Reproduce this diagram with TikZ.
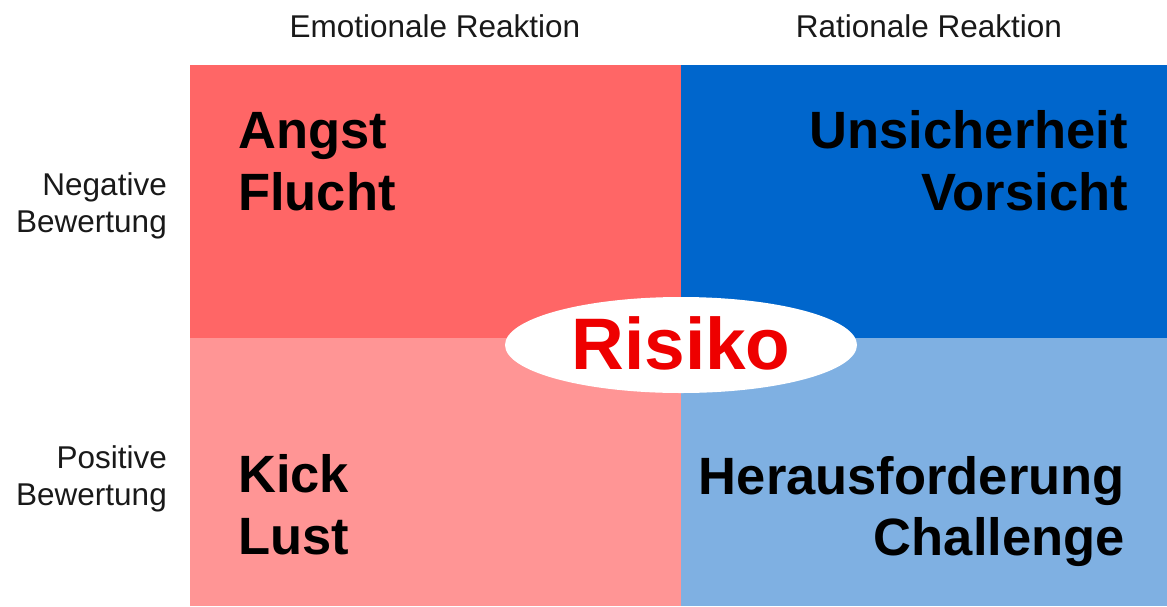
\documentclass[tikz,border=0pt]{standalone}
\usepackage{fontspec}
\setmainfont{Liberation Sans}
\usetikzlibrary{shapes.geometric}
\definecolor{tl}{HTML}{FF6666}
\definecolor{tr}{HTML}{0066CC}
\definecolor{bl}{HTML}{FF9595}
\definecolor{br}{HTML}{7FB0E2}
\definecolor{rred}{HTML}{EE0000}
\begin{document}
\begin{tikzpicture}[x=1pt,y=-1pt,
  big/.style={font=\fontsize{52.5}{62}\selectfont\bfseries, inner sep=0pt, text=black},
  head/.style={font=\fontsize{31.5}{36}\selectfont, inner sep=0pt, text=black!90},
  side/.style={font=\fontsize{31.5}{37}\selectfont, inner sep=0pt, text=black!90, align=right}]
\useasboundingbox (0,0) rectangle (1167,606);
\fill[tl] (190,65) rectangle (681,338);
\fill[tr] (681,65) rectangle (1167,338);
\fill[bl] (190,338) rectangle (681,606);
\fill[br] (681,338) rectangle (1167,606);
\node[draw=none, fill=white, ellipse, minimum width=352pt, minimum height=96pt, inner sep=0pt] (ell) at (681,345) {};
\node[font=\fontsize{73}{75}\selectfont\bfseries, text=rred, inner sep=0pt, anchor=base] (risiko) at (681,369) {Risiko};
\node[big, anchor=base west] (angst) at (238,148) {Angst};
\node[big, anchor=base west] (flucht) at (238,210) {Flucht};
\node[big, anchor=base east] (unsich) at (1128,148) {Unsicherheit};
\node[big, anchor=base east] (vors) at (1128,210) {Vorsicht};
\node[big, anchor=base west] (kick) at (238,492) {Kick};
\node[big, anchor=base west] (lust) at (238,554) {Lust};
\node[big, anchor=base east] (herau) at (1125,494) {Herausforderung};
\node[big, anchor=base east] (chall) at (1125,555) {Challenge};
\node[head, anchor=base] (emo) at (435,37) {Emotionale Reaktion};
\node[head, anchor=base] (rat) at (929,37) {Rationale Reaktion};
\node[side, anchor=base east] (neg1) at (167,195) {Negative};
\node[side, anchor=base east] (neg2) at (167,232) {Bewertung};
\node[side, anchor=base east] (pos1) at (167,468) {Positive};
\node[side, anchor=base east] (pos2) at (167,505) {Bewertung};
\end{tikzpicture}
\end{document}
